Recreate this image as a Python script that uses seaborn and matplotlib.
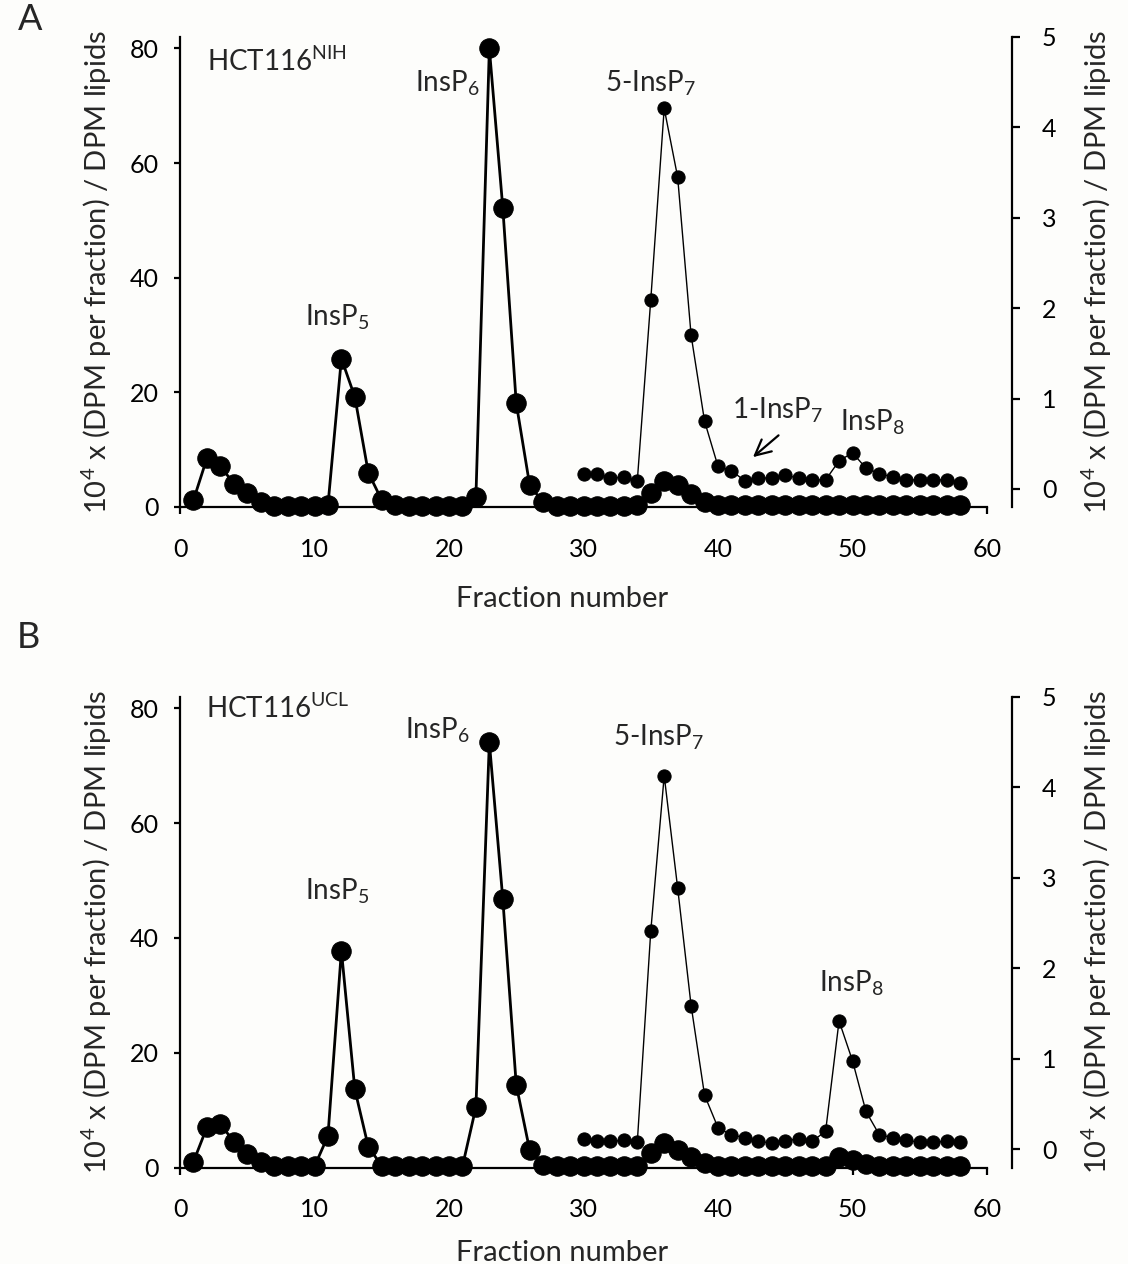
import numpy as np
import pandas as pd
import matplotlib
matplotlib.use("Agg")
import matplotlib.pyplot as plt
import seaborn as sns

# fraction numbers
fractions = list(range(1, 59))
fractions_late = list(range(30, 59))

# panel A (HCT116 NIH) - left axis series, fractions 1-58
nih_main = [1.2, 8.5, 7.1, 4.1, 2.4, 0.9, 0.2, 0.2, 0.2, 0.2,
            0.3, 25.9, 19.2, 6.0, 1.2, 0.3, 0.2, 0.2, 0.2, 0.2,
            0.2, 1.7, 80.0, 52.2, 18.1, 3.8, 0.8, 0.2, 0.2, 0.2,
            0.2, 0.2, 0.2, 0.3, 2.4, 4.5, 3.8, 2.2, 0.9, 0.4,
            0.3, 0.3, 0.3, 0.3, 0.3, 0.3, 0.3, 0.3, 0.4, 0.4,
            0.3, 0.3, 0.3, 0.3, 0.3, 0.3, 0.3, 0.3]
# panel A - right axis series, fractions 30-58
nih_high = [0.17, 0.17, 0.12, 0.13, 0.09, 2.09, 4.21, 3.45, 1.70, 0.75,
            0.25, 0.20, 0.09, 0.12, 0.12, 0.15, 0.12, 0.10, 0.10, 0.31,
            0.40, 0.23, 0.17, 0.13, 0.10, 0.10, 0.10, 0.10, 0.07]

# panel B (HCT116 UCL)
ucl_main = [1.0, 7.0, 7.6, 4.5, 2.4, 1.0, 0.2, 0.2, 0.2, 0.2,
            5.5, 37.8, 13.6, 3.6, 0.3, 0.2, 0.2, 0.2, 0.2, 0.2,
            0.2, 10.5, 74.1, 46.8, 14.4, 3.0, 0.5, 0.2, 0.2, 0.2,
            0.2, 0.2, 0.2, 0.3, 2.5, 4.2, 3.0, 1.9, 0.8, 0.3,
            0.3, 0.3, 0.3, 0.3, 0.3, 0.3, 0.3, 0.3, 1.8, 1.3,
            0.6, 0.3, 0.3, 0.3, 0.3, 0.3, 0.3, 0.3]
ucl_high = [0.11, 0.09, 0.09, 0.10, 0.08, 2.41, 4.13, 2.89, 1.59, 0.60,
            0.24, 0.16, 0.13, 0.09, 0.07, 0.09, 0.12, 0.09, 0.20, 1.42,
            0.98, 0.42, 0.16, 0.13, 0.10, 0.08, 0.08, 0.09, 0.08]

left_ticks = [0, 20, 40, 60, 80]
right_ticks = [0, 1, 2, 3, 4, 5]
x_ticks = [0, 10, 20, 30, 40, 50, 60]

ylabel = r"10$^4$ x (DPM per fraction) / DPM lipids"

sns.set_theme(style="ticks")
plt.rcParams["font.family"] = ["Lato", "DejaVu Sans"]
plt.rcParams["mathtext.fontset"] = "custom"
plt.rcParams["mathtext.rm"] = "Lato"
plt.rcParams["mathtext.it"] = "Lato:italic"
plt.rcParams["mathtext.bf"] = "Lato:bold"
plt.rcParams["mathtext.default"] = "rm"

BG = "#fdfdfb"
FS = 18      # tick labels
LFS = 21     # axis labels
AFS = 20     # peak labels

fig = plt.figure(figsize=(11.28, 12.64), dpi=100, facecolor=BG)


def draw_panel(rect, main, high, title, labels, xlabel_y, arrow=None):
    ax = fig.add_axes(rect)
    ax.set_facecolor("none")
    ax2 = ax.twinx()
    ax2.set_facecolor("none")

    df_main = pd.DataFrame({"fraction": fractions, "value": main})
    df_high = pd.DataFrame({"fraction": fractions_late, "value": high})

    sns.lineplot(data=df_main, x="fraction", y="value", ax=ax, color="black",
                 linewidth=2.0, marker="o", markersize=14, markeredgecolor="black",
                 clip_on=False, zorder=3)
    sns.lineplot(data=df_high, x="fraction", y="value", ax=ax2, color="black",
                 linewidth=1.0, marker="o", markersize=9.5, markeredgecolor="black",
                 clip_on=False, zorder=2)

    ax.set_xlim(0, 60)
    ax.set_ylim(0, 82)
    ax2.set_ylim(-0.2, 5.0)
    ax.set_xticks(x_ticks)
    ax.set_yticks(left_ticks)
    ax2.set_yticks(right_ticks)
    ax.set_xlabel("")
    ax.set_ylabel("")
    ax2.set_ylabel("")

    for a in (ax, ax2):
        a.spines["top"].set_visible(False)
        for s in a.spines.values():
            s.set_linewidth(1.6)
            s.set_color("black")
    ax.spines["right"].set_visible(False)
    ax2.spines["left"].set_visible(False)
    ax2.spines["bottom"].set_visible(False)
    ax2.spines["right"].set_position(("outward", 18))

    ax.tick_params(axis="x", direction="out", length=5, width=1.6,
                   labelsize=FS, pad=17, colors="black")
    ax.tick_params(axis="y", direction="out", length=4.5, width=1.6,
                   labelsize=FS, pad=11, colors="black")
    ax2.tick_params(axis="y", direction="out", length=5.5, width=1.6,
                    labelsize=FS, pad=16, colors="black")

    ax.text(0.473, xlabel_y, "Fraction number", transform=ax.transAxes,
            ha="center", va="baseline", fontsize=LFS)
    ax.text(-0.103, 0.5, ylabel, transform=ax.transAxes, rotation=90,
            ha="center", va="center", fontsize=LFS)
    ax.text(1.136, 0.5, ylabel, transform=ax.transAxes, rotation=90,
            ha="center", va="center", fontsize=LFS)

    for txt, x, y in [title] + labels:
        ha = "left" if txt.startswith("HCT") else "center"
        ax.text(x, y, txt, ha=ha, va="baseline", fontsize=AFS)
    if arrow is not None:
        ax.annotate("", xy=arrow[0], xytext=arrow[1],
                    arrowprops=dict(arrowstyle="->", color="black", lw=1.6,
                                    mutation_scale=28, shrinkA=0, shrinkB=0))
    return ax


draw_panel([180 / 1128, 1 - 507 / 1264, 807 / 1128, 470 / 1264],
           nih_main, nih_high, (r"HCT116$^{\mathrm{NIH}}$", 2.0, 76.1),
           [(r"InsP$_6$", 19.9, 72.5), (r"InsP$_5$", 11.65, 31.7),
            (r"5-InsP$_7$", 35.0, 72.5), (r"1-InsP$_7$", 44.4, 15.4),
            (r"InsP$_8$", 51.5, 13.4)],
           xlabel_y=-0.2128,
           arrow=((42.6, 8.7), (44.5, 12.5)))

draw_panel([180 / 1128, 1 - 1167.5 / 1264, 807 / 1128, 470.5 / 1264],
           ucl_main, ucl_high, (r"HCT116$^{\mathrm{UCL}}$", 1.9, 78.4),
           [(r"InsP$_6$", 19.15, 74.7), (r"InsP$_5$", 11.65, 46.7),
            (r"5-InsP$_7$", 35.6, 73.6), (r"InsP$_8$", 49.9, 30.6)],
           xlabel_y=-0.1987)

fig.text(30 / 1128, 1 - 20 / 1264, "A", ha="center", va="center", fontsize=26)
fig.text(28 / 1128, 1 - 637 / 1264, "B", ha="center", va="center", fontsize=26)

fig.savefig("out.png", dpi=100, facecolor=BG)
